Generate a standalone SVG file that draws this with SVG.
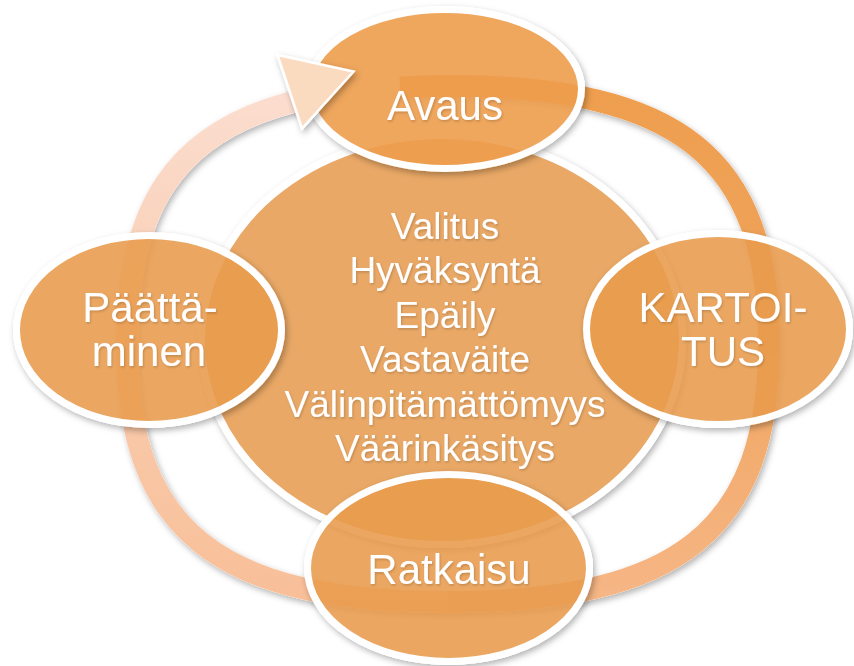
<svg xmlns="http://www.w3.org/2000/svg" width="854" height="666" viewBox="0 0 854 666">
  <defs>
    <!-- soft shadow drawn only outside the shape -->
    <filter id="shadow" x="-10%" y="-10%" width="125%" height="130%">
      <feGaussianBlur in="SourceAlpha" stdDeviation="3" result="blur"/>
      <feOffset in="blur" dx="2" dy="3" result="off"/>
      <feFlood flood-color="#000" flood-opacity="0.3"/>
      <feComposite in2="off" operator="in" result="sh"/>
      <feComposite in="sh" in2="SourceAlpha" operator="out" result="shOut"/>
      <feMerge>
        <feMergeNode in="shOut"/>
        <feMergeNode in="SourceGraphic"/>
      </feMerge>
    </filter>
    <filter id="textShadow" x="-5%" y="-20%" width="110%" height="140%">
      <feDropShadow dx="1" dy="1.5" stdDeviation="1" flood-color="#000" flood-opacity="0.18"/>
    </filter>
    <!-- ring colour: strong orange on the right, fading to peach on the left -->
    <linearGradient id="ringRight" gradientUnits="userSpaceOnUse" x1="0" y1="86" x2="0" y2="602">
      <stop offset="0" stop-color="#EE9E4E"/>
      <stop offset="0.45" stop-color="#EFA45C"/>
      <stop offset="1" stop-color="#F6B686"/>
    </linearGradient>
    <linearGradient id="ringLeft" gradientUnits="userSpaceOnUse" x1="0" y1="602" x2="0" y2="95">
      <stop offset="0" stop-color="#F8BF98"/>
      <stop offset="0.5" stop-color="#F9CCAF"/>
      <stop offset="1" stop-color="#FBDDCF"/>
    </linearGradient>
    <style>
      .band { fill: none; stroke-width: 22; stroke-linecap: butt; }
      .node { fill: #E99B4C; fill-opacity: 0.87; stroke: #FFFFFF; stroke-width: 7; }
      .node.first { fill: #EE9D4C; fill-opacity: 0.9; }
      .hub  { fill: #E9A866; stroke: #FFFFFF; stroke-width: 7; }
      .label { font-family: "Liberation Sans", Arial, sans-serif; fill: #FFFFFF; text-anchor: middle; }
      .big { font-size: 42px; }
      .small { font-size: 37px; }
    </style>
  </defs>

  <rect width="854" height="666" fill="#FFFFFF"/>

  <!-- circular arrow band -->
  <g id="connectors" filter="url(#shadow)">
    <path class="band" stroke="url(#ringRight)" d="M400,87.5 C422,86.5 435,86 448,86 C679.1,86 769,158.2 769,344 C769,529.8 679.1,602 448,602"/>
    <path class="band" stroke="url(#ringLeft)" d="M448,602 C216.9,602 127,529.8 127,344 C127,208.37 174.91,133.27 290.68,102.6 L298.4,100.5"/>
  </g>

  <!-- central list -->
  <g id="node-center" filter="url(#shadow)">
    <ellipse class="hub" cx="442" cy="340" rx="240.5" ry="204.5"/>
  </g>
  <g id="node-center-text" class="label small" filter="url(#textShadow)">
    <text x="445" y="238.5">Valitus</text>
    <text x="445" y="283">Hyväksyntä</text>
    <text x="445" y="327.5">Epäily</text>
    <text x="445" y="372">Vastaväite</text>
    <text x="445" y="416.5">Välinpitämättömyys</text>
    <text x="445" y="461">Väärinkäsitys</text>
  </g>

  <g id="node-avaus">
    <ellipse class="node first" cx="445" cy="89" rx="136.5" ry="79.5" filter="url(#shadow)"/>
    <text class="label big" x="445" y="120" filter="url(#textShadow)">Avaus</text>
  </g>

  <g id="node-kartoitus">
    <ellipse class="node" cx="718" cy="329" rx="131.5" ry="95.5" filter="url(#shadow)"/>
    <g class="label big" filter="url(#textShadow)">
      <text x="723" y="321.5">KARTOI-</text>
      <text x="723" y="366">TUS</text>
    </g>
  </g>

  <g id="node-ratkaisu">
    <ellipse class="node" cx="448.5" cy="568" rx="141" ry="93.5" filter="url(#shadow)"/>
    <text class="label big" x="449" y="583.5" filter="url(#textShadow)">Ratkaisu</text>
  </g>

  <g id="node-paattaminen">
    <ellipse class="node" cx="149" cy="330" rx="132.5" ry="94.5" filter="url(#shadow)"/>
    <g class="label big" filter="url(#textShadow)">
      <text x="150" y="321.5">Päättä-</text>
      <text x="149" y="366">minen</text>
    </g>
  </g>

  <!-- arrow head at the end of the band -->
  <g id="connector-head" filter="url(#shadow)">
    <polygon points="277.5,55 353.5,71.5 302,128.5" fill="#FBDBBF" stroke="#FFFFFF" stroke-width="2.5" stroke-linejoin="miter"/>
  </g>
</svg>
